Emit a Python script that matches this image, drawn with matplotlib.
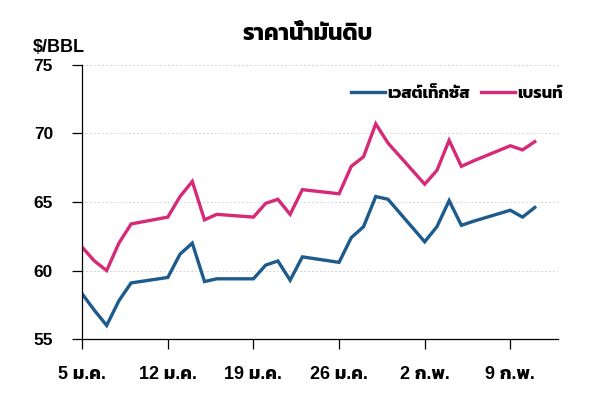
import matplotlib
matplotlib.use("Agg")
import matplotlib.pyplot as plt

plt.rcParams['font.family'] = ['Liberation Sans', 'Kanit', 'DejaVu Sans']
plt.rcParams['font.weight'] = 'bold'

# วันนับจาก 5 ม.ค. (เฉพาะวันทำการ)
days = [0, 1, 2, 3, 4, 7, 8, 9, 10, 11, 14, 15, 16, 17, 18,
        21, 22, 23, 24, 25, 28, 29, 30, 31, 32, 35, 36, 37]
wti = [58.3, 57.1, 56.0, 57.8, 59.1, 59.5, 61.2, 62.0, 59.2, 59.4, 59.4, 60.4, 60.7, 59.3, 61.0,
       60.6, 62.4, 63.2, 65.4, 65.2, 62.1, 63.2, 65.1, 63.3, 63.6, 64.4, 63.9, 64.6]
brent = [61.7, 60.7, 60.0, 62.0, 63.4, 63.9, 65.4, 66.5, 63.7, 64.1, 63.9, 64.9, 65.2, 64.1, 65.9,
         65.6, 67.6, 68.3, 70.7, 69.3, 66.3, 67.3, 69.5, 67.6, 68.0, 69.1, 68.8, 69.4]
tick_days = [0, 7, 14, 21, 28, 35]
tick_labels = ['5 ม.ค.', '12 ม.ค.', '19 ม.ค.', '26 ม.ค.', '2 ก.พ.', '9 ก.พ.']
yticks = [55, 60, 65, 70, 75]

fig = plt.figure(figsize=(6, 3.93), dpi=100)
ax = fig.add_axes([0.137, 0.137, 0.793, 0.698])

ax.plot(days, wti, color='#1c5b8c', lw=2.4, label='เวสต์เท็กซัส', solid_joinstyle='miter')
ax.plot(days, brent, color='#d62a78', lw=2.4, label='เบรนท์', solid_joinstyle='miter')

ax.set_xlim(0, 38.9)
ax.set_ylim(55, 75)
ax.set_yticks(yticks)
ax.set_xticks(tick_days)
ax.set_xticklabels(tick_labels)
for g in yticks[1:]:
    ax.axhline(g, color='#d4d4d4', lw=0.7, ls=(0, (2, 2)), zorder=0)

for s in ['top', 'right']:
    ax.spines[s].set_visible(False)
ax.spines['left'].set_linewidth(0.9)
ax.spines['bottom'].set_linewidth(0.9)
ax.tick_params(axis='y', length=7, width=0.9, pad=14, labelsize=12.5)
ax.tick_params(axis='x', length=7, width=0.9, pad=12, labelsize=13)

fig.text(0.512, 0.915, 'ราคาน้ำมันดิบ', ha='center', va='center', fontsize=16.5, fontweight='bold')
fig.text(0.055, 0.878, '$/BBL', ha='left', va='center', fontsize=13, fontweight='bold')

ax.legend(loc='center right', bbox_to_anchor=(0.952, 0.763), bbox_transform=fig.transFigure,
          ncol=2, frameon=False, fontsize=12, handlelength=2.0, handletextpad=0.15,
          columnspacing=0.7, borderpad=0)

fig.savefig('out.png', dpi=100)
